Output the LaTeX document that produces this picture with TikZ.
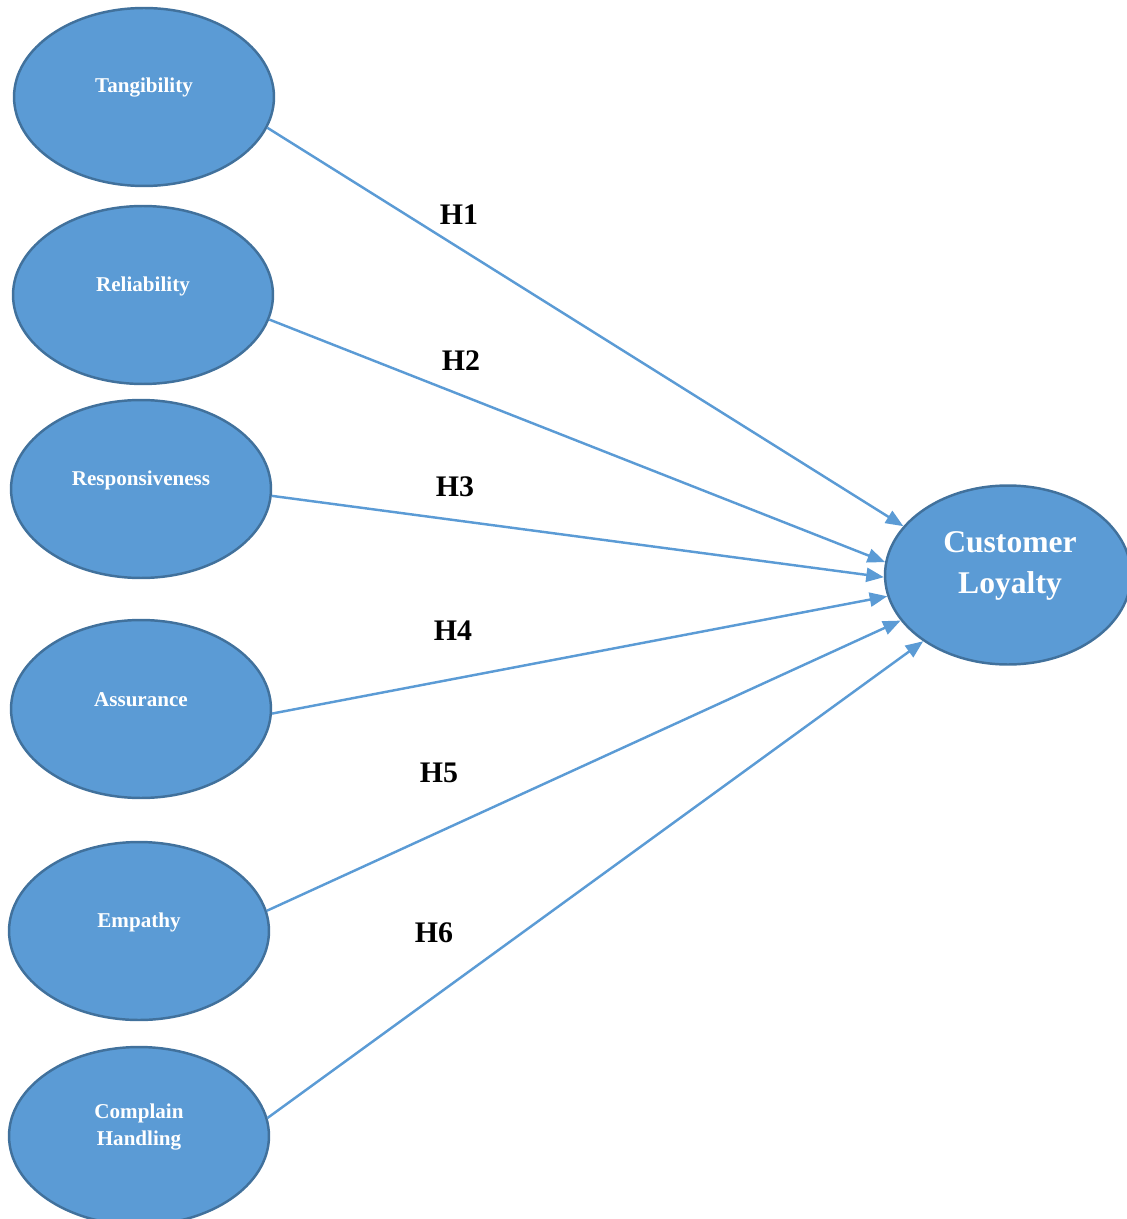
\documentclass[tikz,border=0pt]{standalone}
\usepackage{fontspec}
\setmainfont{Liberation Serif}
\usepackage{xcolor}
\usepackage{tikz}
\usetikzlibrary{shapes,arrows.meta,positioning}

\definecolor{nodeblue}{HTML}{5B9BD5}
\definecolor{rimblue}{HTML}{41719C}

\begin{document}
\begin{tikzpicture}[
    x=0.02cm, y=-0.02cm,
    construct/.style={ellipse, draw=rimblue, line width=1.4pt, fill=nodeblue,
        minimum width=5.2cm, minimum height=3.56cm, inner sep=0pt},
    target/.style={ellipse, draw=rimblue, line width=1.4pt, fill=nodeblue,
        minimum width=4.92cm, minimum height=3.58cm, inner sep=0pt},
    clbl/.style={text=white, font=\fontsize{12}{15.5}\selectfont\bfseries, align=center},
    tlbl/.style={text=white, font=\fontsize{18}{23}\selectfont\bfseries, align=center},
    arrow/.style={-{Triangle[length=10pt, width=8pt]}, line width=1.4pt, color=nodeblue},
    hyp/.style={font=\fontsize{17}{20}\selectfont\bfseries}
]
    \useasboundingbox (0,0) rectangle (1126,1219);

    % Service quality dimensions
    \node[construct] (tang) at (144, 97) {};
    \node[construct] (reli) at (143, 295) {};
    \node[construct] (resp) at (141, 489) {};
    \node[construct] (assu) at (141, 709) {};
    \node[construct] (empa) at (139, 931) {};
    \node[construct] (comp) at (139, 1136) {};

    \node[clbl] (tanglbl) at (144, 88) {Tangibility};
    \node[clbl] (relilbl) at (143, 286) {Reliability};
    \node[clbl] (resplbl) at (141, 480) {Responsiveness};
    \node[clbl] (assulbl) at (141, 700) {Assurance};
    \node[clbl] (empalbl) at (139, 922) {Empathy};
    \node[clbl] (complbl) at (139, 1127) {Complain\\Handling};

    % Outcome
    \node[target] (loya) at (1008, 575) {};
    \node[tlbl] (loyalbl) at (1010, 566) {Customer\\Loyalty};

    % Paths
    \draw[arrow] (tang.-14.5) -- (loya.155.9);
    \draw[arrow] (reli.-11.9) -- (loya.174.3);
    \draw[arrow] (resp.-3.5) -- (loya.181);
    \draw[arrow] (assu.-2.2) -- (loya.190.8);
    \draw[arrow] (empa.9.9) -- (loya.203.1);
    \draw[arrow] (comp.8) -- (loya.218.9);

    % Hypotheses
    \node[hyp] (h1) at (459, 215) {H1};
    \node[hyp] (h2) at (461, 361) {H2};
    \node[hyp] (h3) at (455, 487) {H3};
    \node[hyp] (h4) at (453, 631) {H4};
    \node[hyp] (h5) at (439, 773) {H5};
    \node[hyp] (h6) at (434, 933) {H6};
\end{tikzpicture}
\end{document}
